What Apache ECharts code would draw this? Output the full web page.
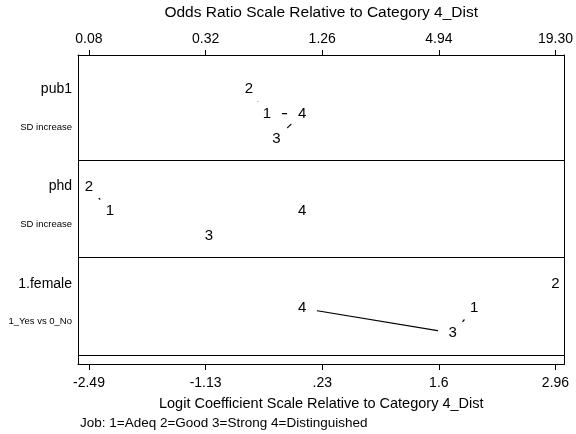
<!DOCTYPE html>
<html>
<head>
<meta charset="utf-8">
<script src="https://cdn.jsdelivr.net/npm/echarts@6/dist/echarts.min.js"></script>
<style>
  html, body { margin: 0; padding: 0; background: #fff; }
  #chart { width: 576px; height: 434px; }
</style>
</head>
<body>
<div id="chart"></div>
<script>
// Variables (one panel each, top to bottom) and their unit descriptions
const variables = ['pub1', 'phd', '1.female'];
const descriptions = ['SD increase', 'SD increase', '1_Yes vs 0_No'];

// Outcome categories: 1=Adeq 2=Good 3=Strong 4=Distinguished
const categories = ['1', '2', '3', '4'];

// Logit coefficients relative to category 4_Dist, per variable
const logitAdeq   = [-0.41, -2.245, 2.01];
const logitGood   = [-0.62, -2.49, 2.96];
const logitStrong = [-0.30, -1.09, 1.76];
const logitDist   = [0, 0, 0];

// Category pairs joined by a line, per variable
const linkedPairs = [
  [['2', '1'], ['1', '4'], ['3', '4']],
  [['2', '1']],
  [['4', '3'], ['3', '1']]
];

// Axis ticks (logit scale) and their labels on both scales
const logitTicks = [-2.49, -1.1275, 0.235, 1.5975, 2.96];
const logitTickLabels = ['-2.49', '-1.13', '.23', '1.6', '2.96'];
const oddsTickLabels = ['0.08', '0.32', '1.26', '4.94', '19.30'];

const noteText = 'Job: 1=Adeq 2=Good 3=Strong 4=Distinguished';

// ---- layout helpers ----
const FONT = '"Liberation Sans", Arial, Helvetica, sans-serif';
const nPanels = variables.length;
// vertical offset of each category's letter inside its panel (panel height = 1)
const rowOffset = { '1': 0.48, '2': 0.73, '3': 0.225, '4': 0.48 };
const nameOffset = 0.73, descOffset = 0.34;
const panelBase = i => nPanels - 1 - i;

const coefByCat = { '1': logitAdeq, '2': logitGood, '3': logitStrong, '4': logitDist };

const xMin = -2.618, xMax = 3.065;
const yMin = -0.093, yMax = 3.082;

function nearestIndex(list, v) {
  let best = 0;
  list.forEach((t, i) => { if (Math.abs(t - v) < Math.abs(list[best] - v)) best = i; });
  return best;
}
const tickLabel = labels => v => labels[nearestIndex(logitTicks, v)];

// left-side variable labels
const yLabelValues = [];
const yLabelText = [];
variables.forEach((name, i) => {
  yLabelValues.push(panelBase(i) + nameOffset); yLabelText.push('{n|' + name + '}');
  yLabelValues.push(panelBase(i) + descOffset); yLabelText.push('{d|' + descriptions[i] + '}');
});

// letters
const pointData = [];
variables.forEach((name, i) => {
  categories.forEach(c => {
    pointData.push({ value: [coefByCat[c][i], panelBase(i) + rowOffset[c]], cat: c });
  });
});

// connecting lines
const lineSeries = [];
linkedPairs.forEach((pairs, i) => {
  pairs.forEach(([a, b]) => {
    lineSeries.push({
      type: 'line',
      xAxisIndex: 0, yAxisIndex: 0,
      data: [[coefByCat[a][i], panelBase(i) + rowOffset[a]], [coefByCat[b][i], panelBase(i) + rowOffset[b]]],
      symbol: 'none',
      lineStyle: { color: '#000', width: 1.2 },
      silent: true,
      z: 2
    });
  });
});

const chart = echarts.init(document.getElementById('chart'), null, { renderer: 'canvas' });
chart.setOption({
  animation: false,
  textStyle: { fontFamily: FONT },
  title: {
    text: noteText,
    left: 80, top: 416, padding: 0,
    textStyle: { fontSize: 13.5, fontWeight: 'normal', color: '#000', fontFamily: FONT }
  },
  grid: { left: 78, right: 10, top: 55, bottom: 70, containLabel: false },
  xAxis: [
    {
      type: 'value', position: 'bottom', min: xMin, max: xMax, z: 5,
      name: 'Logit Coefficient Scale Relative to Category 4_Dist',
      nameLocation: 'middle', nameGap: 32,
      nameTextStyle: { fontSize: 14.5, color: '#000', fontFamily: FONT },
      axisLine: { show: true, onZero: false, lineStyle: { color: '#000', width: 1 } },
      axisTick: { show: true, length: 6, lineStyle: { color: '#000' }, customValues: logitTicks },
      axisLabel: { fontSize: 14, color: '#000', margin: 12, customValues: logitTicks, formatter: tickLabel(logitTickLabels) },
      splitLine: { show: false }
    },
    {
      type: 'value', position: 'top', min: xMin, max: xMax, z: 5,
      name: 'Odds Ratio Scale Relative to Category 4_Dist',
      nameLocation: 'middle', nameGap: 34,
      nameTextStyle: { fontSize: 15.5, color: '#000', fontFamily: FONT },
      axisLine: { show: true, onZero: false, lineStyle: { color: '#000', width: 1 } },
      axisTick: { show: true, length: 5, lineStyle: { color: '#000' }, customValues: logitTicks },
      axisLabel: { fontSize: 14, color: '#000', margin: 9, customValues: logitTicks, formatter: tickLabel(oddsTickLabels) },
      splitLine: { show: false }
    }
  ],
  yAxis: [
    {
      type: 'value', position: 'left', min: yMin, max: yMax, z: 5,
      axisLine: { show: true, onZero: false, lineStyle: { color: '#000', width: 1 } },
      axisTick: { show: false },
      splitLine: { show: false },
      axisLabel: {
        margin: 6,
        customValues: yLabelValues,
        formatter: v => yLabelText[nearestIndex(yLabelValues, v)],
        rich: {
          n: { fontSize: 14, color: '#000', fontFamily: FONT },
          d: { fontSize: 9.5, color: '#000', fontFamily: FONT }
        }
      }
    },
    {
      type: 'value', position: 'right', min: yMin, max: yMax, z: 5,
      axisLine: { show: true, onZero: false, lineStyle: { color: '#000', width: 1 } },
      axisTick: { show: false }, axisLabel: { show: false }, splitLine: { show: false }
    }
  ],
  series: [
    {
      type: 'line', xAxisIndex: 0, yAxisIndex: 0, data: [], silent: true,
      markLine: {
        silent: true, symbol: 'none', label: { show: false },
        lineStyle: { color: '#000', width: 1, type: 'solid' },
        data: Array.from({ length: nPanels }, (_, k) => ({ yAxis: k }))
      }
    },
    ...lineSeries,
    {
      type: 'scatter', xAxisIndex: 0, yAxisIndex: 0,
      data: pointData,
      symbol: 'circle', symbolSize: 30,
      itemStyle: { color: '#fff', opacity: 1 },
      label: {
        show: true, position: 'inside',
        formatter: p => p.data.cat,
        fontSize: 15, color: '#000', fontFamily: FONT
      },
      silent: true,
      z: 3
    }
  ]
});
</script>
</body>
</html>
